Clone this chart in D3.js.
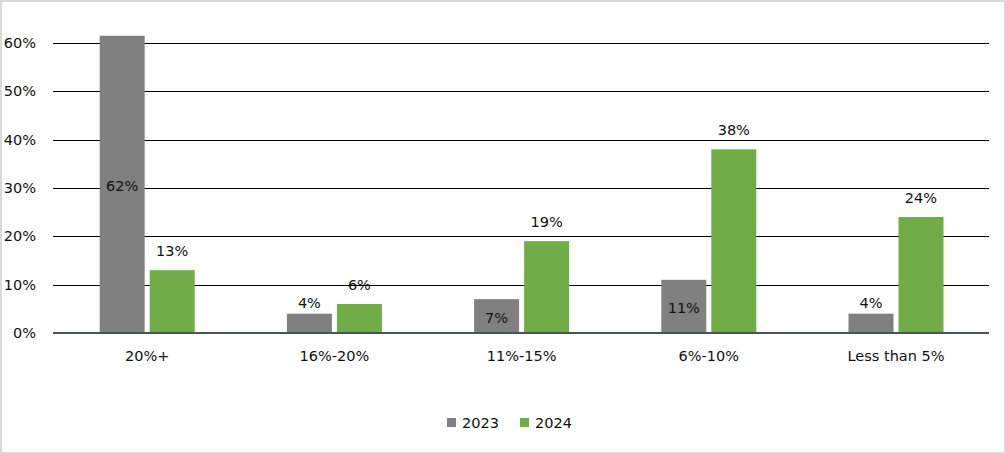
<!DOCTYPE html>
<html>
<head>
<meta charset="utf-8">
<script src="https://cdn.jsdelivr.net/npm/d3@7"></script>
<style>
  html, body { margin: 0; padding: 0; background: #fff; }
  svg text { font-family: "DejaVu Sans", sans-serif; font-size: 14.5px; fill: #111; }
</style>
</head>
<body>
<svg id="chart" width="1006" height="454"></svg>
<script>
const categories = ["20%+", "16%-20%", "11%-15%", "6%-10%", "Less than 5%"];
const seriesNames = ["2023", "2024"];
const values2023 = [61.5, 4, 7, 11, 4];
const values2024 = [13, 6, 19, 38, 24];
const yTicks = [0, 10, 20, 30, 40, 50, 60];
const colors = ["#808080", "#70AD47"];

const svg = d3.select("#chart");
const W = 1006, H = 454;
const pct = v => d3.format(".0f")(v) + "%";

svg.append("rect").attr("x", 1).attr("y", 1).attr("width", W - 2).attr("height", H - 2)
  .attr("fill", "#fff").attr("stroke", "#d9d9d9").attr("stroke-width", 2);

const plotL = 53, plotR = 989, plotT = 43, plotB = 333;

const x0 = d3.scaleBand().domain(categories).range([plotL + 0.6, plotR + 0.6]).paddingInner(0.4925).paddingOuter(0.24625);
const x1 = d3.scaleBand().domain(seriesNames).range([0, x0.bandwidth()]).paddingInner(0.1).paddingOuter(0);
const y = d3.scaleLinear().domain([0, 60]).range([plotB, plotT]);

// gridlines
const yAxis = d3.axisLeft(y).tickValues(yTicks).tickFormat(d => d + "%").tickSize(-(plotR - plotL)).tickPadding(17);
const gy = svg.append("g").attr("transform", `translate(${plotL},0)`).call(yAxis);
gy.select(".domain").remove();
gy.selectAll(".tick line").attr("stroke", "#000").attr("stroke-width", 1)
  .attr("shape-rendering", "crispEdges");
gy.selectAll(".tick text").attr("fill", "#111").style("font-size", "14.5px")
  .style("font-family", "DejaVu Sans, sans-serif");

const data = categories.map((c, i) => ({ cat: c, vals: [
  { s: "2023", v: values2023[i], k: 0 },
  { s: "2024", v: values2024[i], k: 1 }
]}));

const groups = svg.append("g").selectAll("g").data(data).join("g")
  .attr("transform", d => `translate(${x0(d.cat)},0)`);

groups.selectAll("rect").data(d => d.vals).join("rect")
  .attr("x", d => x1(d.s))
  .attr("y", d => y(d.v))
  .attr("width", x1.bandwidth())
  .attr("height", d => y(0) - y(d.v))
  .attr("fill", d => colors[d.k]);

// data labels
groups.selectAll("text.lbl").data(d => d.vals).join("text")
  .attr("class", "lbl")
  .attr("x", d => x1(d.s) + x1.bandwidth() / 2)
  .attr("y", d => {
    if (d.k === 1) return y(d.v) - 19;
    if (d.v < 6) return y(d.v) - 11;
    return (y(d.v) + y(0)) / 2 + 2;
  })
  .attr("text-anchor", "middle")
  .attr("dominant-baseline", "central")
  .text(d => pct(d.v));

// x axis baseline
svg.append("line").attr("x1", plotL).attr("x2", plotR).attr("y1", plotB).attr("y2", plotB)
  .attr("stroke", "#4a5559").attr("stroke-width", 2);

// x labels
const xAxis = d3.axisBottom(x0).tickSize(0).tickPadding(18);
const gx = svg.append("g").attr("transform", `translate(0,${plotB})`).call(xAxis);
gx.select(".domain").remove();
gx.selectAll(".tick text").attr("fill", "#111").style("font-size", "14.5px")
  .style("font-family", "DejaVu Sans, sans-serif");

// legend
const legend = svg.append("g");
const legendX = [447, 520];
seriesNames.forEach((s, i) => {
  legend.append("rect").attr("x", legendX[i]).attr("y", 418).attr("width", 9).attr("height", 9).attr("fill", colors[i]);
  legend.append("text").attr("x", legendX[i] + 15).attr("y", 423).attr("dominant-baseline", "central").text(s);
});
</script>
</body>
</html>
